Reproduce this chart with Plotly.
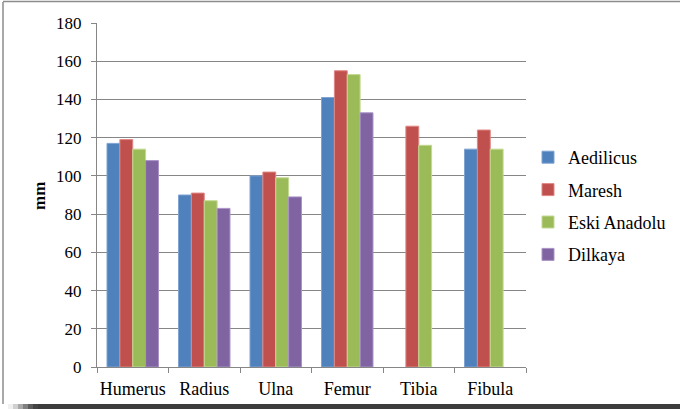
import plotly.graph_objects as go

categories = ["Humerus", "Radius", "Ulna", "Femur", "Tibia", "Fibula"]
aedilicus = [117, 90, 100, 141, None, 114]
maresh = [119, 91, 102, 155, 126, 124]
eski_anadolu = [114, 87, 99, 153, 116, 114]
dilkaya = [108, 83, 89, 133, None, None]
y_title = "mm"

series = [
    ("Aedilicus", aedilicus, "#4F81BD", "#7FA3D3"),
    ("Maresh", maresh, "#C0504D", "#E08784"),
    ("Eski Anadolu", eski_anadolu, "#9BBB59", "#C3D992"),
    ("Dilkaya", dilkaya, "#8064A2", "#AA93C6"),
]

W, H = 680, 409
L, R, T, B = 97, 526, 23, 367

fig = go.Figure()
for i, (name, vals, col, edge) in enumerate(series):
    fig.add_trace(go.Bar(
        x=categories, y=vals, name=name, legendgroup=name,
        marker=dict(color=col, line=dict(color=edge, width=1)),
    ))

font = "Liberation Serif"

def px_x(p):
    return (p - L) / (R - L)

def px_y(p):
    return (B - p) / (B - T)

shapes = []
shapes.append(dict(type="line", xref="paper", yref="paper",
                   x0=px_x(3), x1=px_x(3), y0=px_y(2), y1=px_y(404),
                   line=dict(color="#8c8c8c", width=1.5)))
shapes.append(dict(type="line", xref="paper", yref="paper",
                   x0=px_x(3), x1=px_x(681), y0=px_y(1.5), y1=px_y(1.5),
                   line=dict(color="#8c8c8c", width=1.5)))
fade = ["#f0f0f0", "#d0d0d0", "#a8a8a8", "#808080", "#5c5c5c", "#444444"]
xs = [8, 13, 18, 23, 28, 33]
for k, c in enumerate(fade):
    shapes.append(dict(type="rect", xref="paper", yref="paper",
                       x0=px_x(xs[k]), x1=px_x(xs[k] + 5), y0=px_y(404), y1=px_y(410),
                       fillcolor=c, line=dict(width=0)))
shapes.append(dict(type="rect", xref="paper", yref="paper",
                   x0=px_x(38), x1=px_x(681), y0=px_y(404), y1=px_y(410),
                   fillcolor="#3c3c3c", line=dict(width=0)))

annotations = [dict(xref="paper", yref="paper", x=px_x(39), y=px_y(196),
                    xanchor="center", yanchor="middle", textangle=-90,
                    text="<b>" + y_title + "</b>", showarrow=False,
                    font=dict(family=font, size=17, color="black"))]

fig.update_layout(
    width=W, height=H,
    margin=dict(l=L, r=W - R, t=T, b=H - B, pad=0, autoexpand=False),
    paper_bgcolor="white", plot_bgcolor="white",
    barmode="group", bargap=0.28, bargroupgap=0,
    font=dict(family=font, size=17, color="black"),
    showlegend=True,
    legend=dict(x=px_x(528), xanchor="left", y=px_y(139), yanchor="top",
                font=dict(family=font, size=18, color="black"),
                tracegroupgap=6, traceorder="grouped",
                bgcolor="rgba(0,0,0,0)"),
    shapes=shapes,
    annotations=annotations,
    xaxis=dict(
        type="category", showgrid=False, showline=True, linecolor="#868686", linewidth=1,
        ticks="outside", tickson="boundaries", ticklen=5, tickcolor="#868686",
        tickfont=dict(family=font, size=18, color="black"),
        tickangle=0, ticklabelstandoff=5,
        automargin=False,
    ),
    yaxis=dict(
        range=[0, 180], dtick=20, showgrid=True, gridcolor="#868686", gridwidth=1,
        showline=True, linecolor="#868686", linewidth=1,
        ticks="outside", ticklen=5, tickcolor="#868686",
        tickfont=dict(family=font, size=17, color="black"),
        ticklabelstandoff=6,
        zeroline=False, automargin=False,
    ),
)

post = (
    "document.body.style.margin='0';document.body.style.padding='0';"
    "function fixFonts(){var t=document.querySelectorAll('text, tspan');"
    "for(var i=0;i<t.length;i++){t[i].style.fontFamily=\"'Liberation Serif', 'Times New Roman', serif\";}}"
    "fixFonts();"
    "if(document.fonts&&document.fonts.ready){document.fonts.ready.then(fixFonts);}"
    "setTimeout(fixFonts,50);setTimeout(fixFonts,200);setTimeout(fixFonts,600);"
)

fig.write_html("out.html", config={"displayModeBar": False}, post_script=post)
